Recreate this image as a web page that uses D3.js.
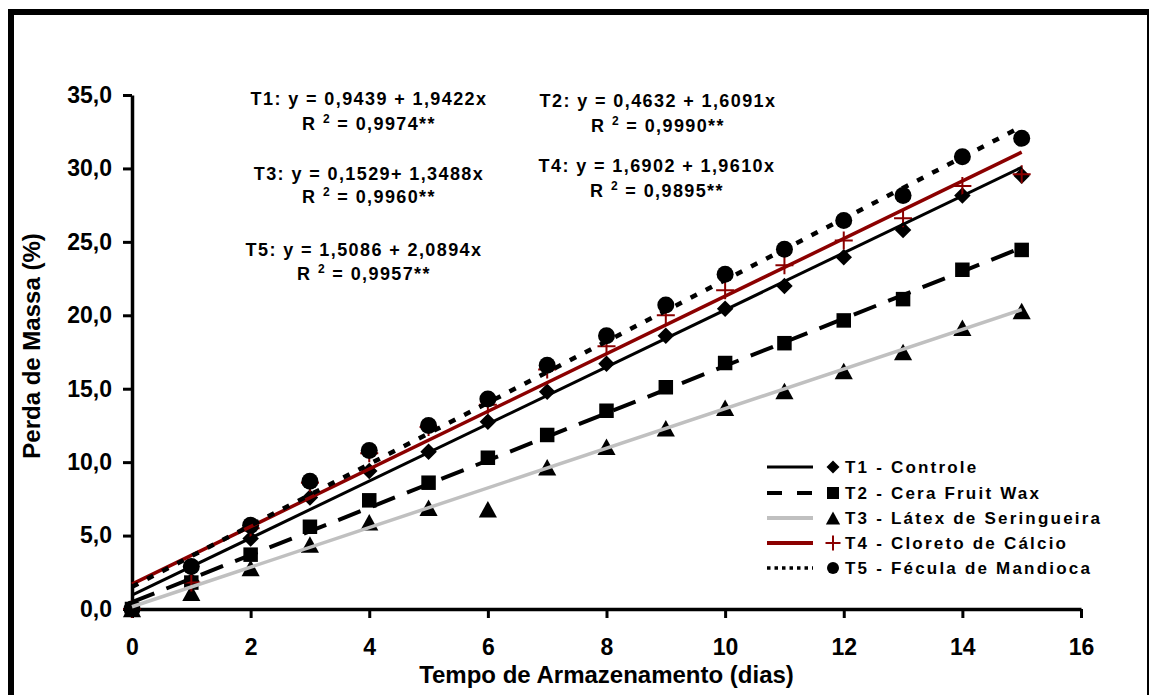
<!DOCTYPE html>
<html><head><meta charset="utf-8">
<script src="https://cdn.jsdelivr.net/npm/d3@7"></script>
<style>
html,body{margin:0;padding:0;background:#fff;}
svg{display:block;font-family:"Liberation Sans",Arial,sans-serif;font-weight:bold;}
</style></head><body>
<svg id="chart" width="1152" height="695"></svg>
<script>
// ---------------- data ----------------
const days = [0,1,2,3,4,5,6,7,8,9,10,11,12,13,14,15];
const t1Controle = [0,1.9,4.8,7.6,9.4,10.7,12.75,14.8,16.7,18.6,20.45,22.0,23.95,25.8,28.15,29.5];
const t2CeraFruitWax = [0,1.8,3.7,5.6,7.4,8.6,10.3,11.85,13.5,15.1,16.75,18.1,19.65,21.1,23.1,24.45];
const t3Latex = [0,1.1,2.8,4.4,5.9,6.9,6.8,9.65,11.05,12.3,13.7,14.85,16.2,17.5,19.15,20.3];
const t4Cloreto = [0,1.8,5.5,8.6,10.6,12.4,13.9,16.3,17.9,20.0,21.7,23.4,25.1,26.6,28.8,29.6];
const t5Fecula = [0,2.9,5.7,8.7,10.8,12.5,14.3,16.6,18.6,20.7,22.8,24.5,26.45,28.15,30.8,32.05];
const seriesNames = ["T1 - Controle","T2 - Cera Fruit Wax","T3 - Látex de Seringueira","T4 - Cloreto de Cálcio","T5 - Fécula de Mandioca"];
const intercepts = [0.9439,0.4632,0.1529,1.6902,1.5086];
const slopes = [1.9422,1.6091,1.3488,1.9610,2.0894];
const equationTexts = ["T1: y = 0,9439 + 1,9422x","T2: y = 0,4632 + 1,6091x","T3: y = 0,1529+ 1,3488x","T4: y = 1,6902 + 1,9610x","T5: y = 1,5086 + 2,0894x"];
const r2Texts = ["0,9974**","0,9990**","0,9960**","0,9895**","0,9957**"];
const yTicks = [0,5,10,15,20,25,30,35];
const xTicks = [0,2,4,6,8,10,12,14,16];
const xTitle = "Tempo de Armazenamento (dias)";
const yTitle = "Perda de Massa (%)";

// ---------------- setup ----------------
const svg = d3.select("#chart");
const x = d3.scaleLinear().domain([0,16]).range([132,1081]);
const y = d3.scaleLinear().domain([0,35]).range([609,95]);

// frame
svg.append("rect").attr("x",8).attr("y",9).attr("width",6).attr("height",700).attr("fill","#000");
svg.append("rect").attr("x",8).attr("y",9).attr("width",1141).attr("height",6).attr("fill","#000");
svg.append("rect").attr("x",1147).attr("y",9).attr("width",2).attr("height",700).attr("fill","#000");

const seriesData = [t1Controle,t2CeraFruitWax,t3Latex,t4Cloreto,t5Fecula];
const styles = [
  {stroke:"#000", width:3, dash:null, legDash:null, legWidth:3},
  {stroke:"#000", width:4, dash:"24,13", legDash:"15,15", legWidth:4},
  {stroke:"#c0c0c0", width:3.5, dash:null, legDash:null, legWidth:4},
  {stroke:"#8b0000", width:3.5, dash:null, legDash:null, legWidth:4},
  {stroke:"#000", width:4.5, dash:"7,10", legDash:"3.5,4", legWidth:3.5}
];

// marker path generators (relative to center)
function markerPath(kind, s) {
  const p = d3.path();
  if (kind === 0) { // diamond
    const h = s/2; p.moveTo(0,-h); p.lineTo(h,0); p.lineTo(0,h); p.lineTo(-h,0); p.closePath();
  } else if (kind === 1) { // square
    const h = s/2; p.rect(-h,-h,s,s);
  } else if (kind === 2) { // triangle
    const w = s*1.1/2, h = s/2; p.moveTo(0,-h); p.lineTo(w,h); p.lineTo(-w,h); p.closePath();
  } else if (kind === 3) { // cross
    const h = s/2; p.moveTo(-h,0); p.lineTo(h,0); p.moveTo(0,-h); p.lineTo(0,h);
  } else { // circle
    p.arc(0,0,s/2,0,Math.PI*2);
  }
  return p.toString();
}
const plotSizes = [16.5,14.5,16.5,18,17];
const legendSizes = [13,12,13,15,12];

function drawMarker(g, kind, cx, cy, s) {
  const el = g.append("path").attr("d", markerPath(kind, s)).attr("transform", `translate(${cx},${cy})`);
  if (kind === 3) el.attr("fill","none").attr("stroke","#8b0000").attr("stroke-width",2);
  else el.attr("fill","#000");
}

// ---------------- axes ----------------
const fmt = d => d3.format(".1f")(d).replace(".", ",");
const yAxis = svg.append("g").attr("transform",`translate(${x(0)},0)`)
  .call(d3.axisLeft(y).tickValues(yTicks).tickSize(9).tickSizeOuter(0).tickPadding(11).tickFormat(fmt));
const xAxis = svg.append("g").attr("transform",`translate(0,${y(0)})`)
  .call(d3.axisBottom(x).tickValues(xTicks).tickSize(9).tickSizeOuter(0).tickPadding(21).tickFormat(d3.format("d")));
[yAxis, xAxis].forEach(a => {
  a.select(".domain").attr("stroke","#000").attr("stroke-width",3.5);
  a.selectAll(".tick line").attr("stroke","#000").attr("stroke-width",3);
  a.selectAll(".tick text").attr("fill","#000").attr("font-size",23).attr("font-weight","bold")
    .attr("font-family",'"Liberation Sans",Arial,sans-serif');
});
xAxis.selectAll(".tick text").attr("dy",null).attr("y",46);

svg.append("text").attr("x",(x(0)+x(16))/2).attr("y",683).attr("text-anchor","middle")
  .attr("font-size",24).text(xTitle);
svg.append("text").attr("transform",`translate(40,346) rotate(-90)`)
  .attr("text-anchor","middle").attr("font-size",24).text(yTitle);

// ---------------- markers ----------------
const markerG = svg.append("g");
seriesData.forEach((vals, k) => {
  vals.forEach((v, i) => drawMarker(markerG, k, x(days[i]), y(v), plotSizes[k]));
});

// ---------------- trendlines ----------------
const line = d3.line().x(d => x(d[0])).y(d => y(d[1]));
intercepts.forEach((b, k) => {
  const pts = [[days[0], b + slopes[k]*days[0]], [days[days.length-1], b + slopes[k]*days[days.length-1]]];
  const st = styles[k];
  svg.append("path").attr("d", line(pts)).attr("fill","none").attr("stroke",st.stroke)
    .attr("stroke-width",st.width).attr("stroke-dasharray",st.dash);
});

// ---------------- equations ----------------
const eqPos = [[369,105,130],[658,107,132],[369,180,203],[657,172,197],[364,256,280]];
equationTexts.forEach((t, k) => {
  const [cx, y1, y2] = eqPos[k];
  svg.append("text").attr("x",cx).attr("y",y1).attr("text-anchor","middle")
    .attr("font-size",18).attr("letter-spacing",1.4).text(t);
  const r = svg.append("text").attr("x",cx).attr("y",y2).attr("text-anchor","middle")
    .attr("font-size",18).attr("letter-spacing",1.4);
  r.append("tspan").text("R ");
  r.append("tspan").attr("font-size",12).attr("dy",-7).text("2");
  r.append("tspan").attr("dy",7).text(" = " + r2Texts[k]);
});

// ---------------- legend ----------------
const legRows = [467,493,518,543,568];
seriesNames.forEach((name, k) => {
  const ly = legRows[k], st = styles[k];
  svg.append("line").attr("x1",767).attr("x2",813).attr("y1",ly).attr("y2",ly)
    .attr("stroke",st.stroke).attr("stroke-width",st.legWidth).attr("stroke-dasharray",st.legDash);
  drawMarker(svg, k, 833, ly, legendSizes[k]);
  svg.append("text").attr("x",845).attr("y",ly+6).attr("font-size",17).attr("letter-spacing",2.2).text(name);
});
</script>
</body></html>
